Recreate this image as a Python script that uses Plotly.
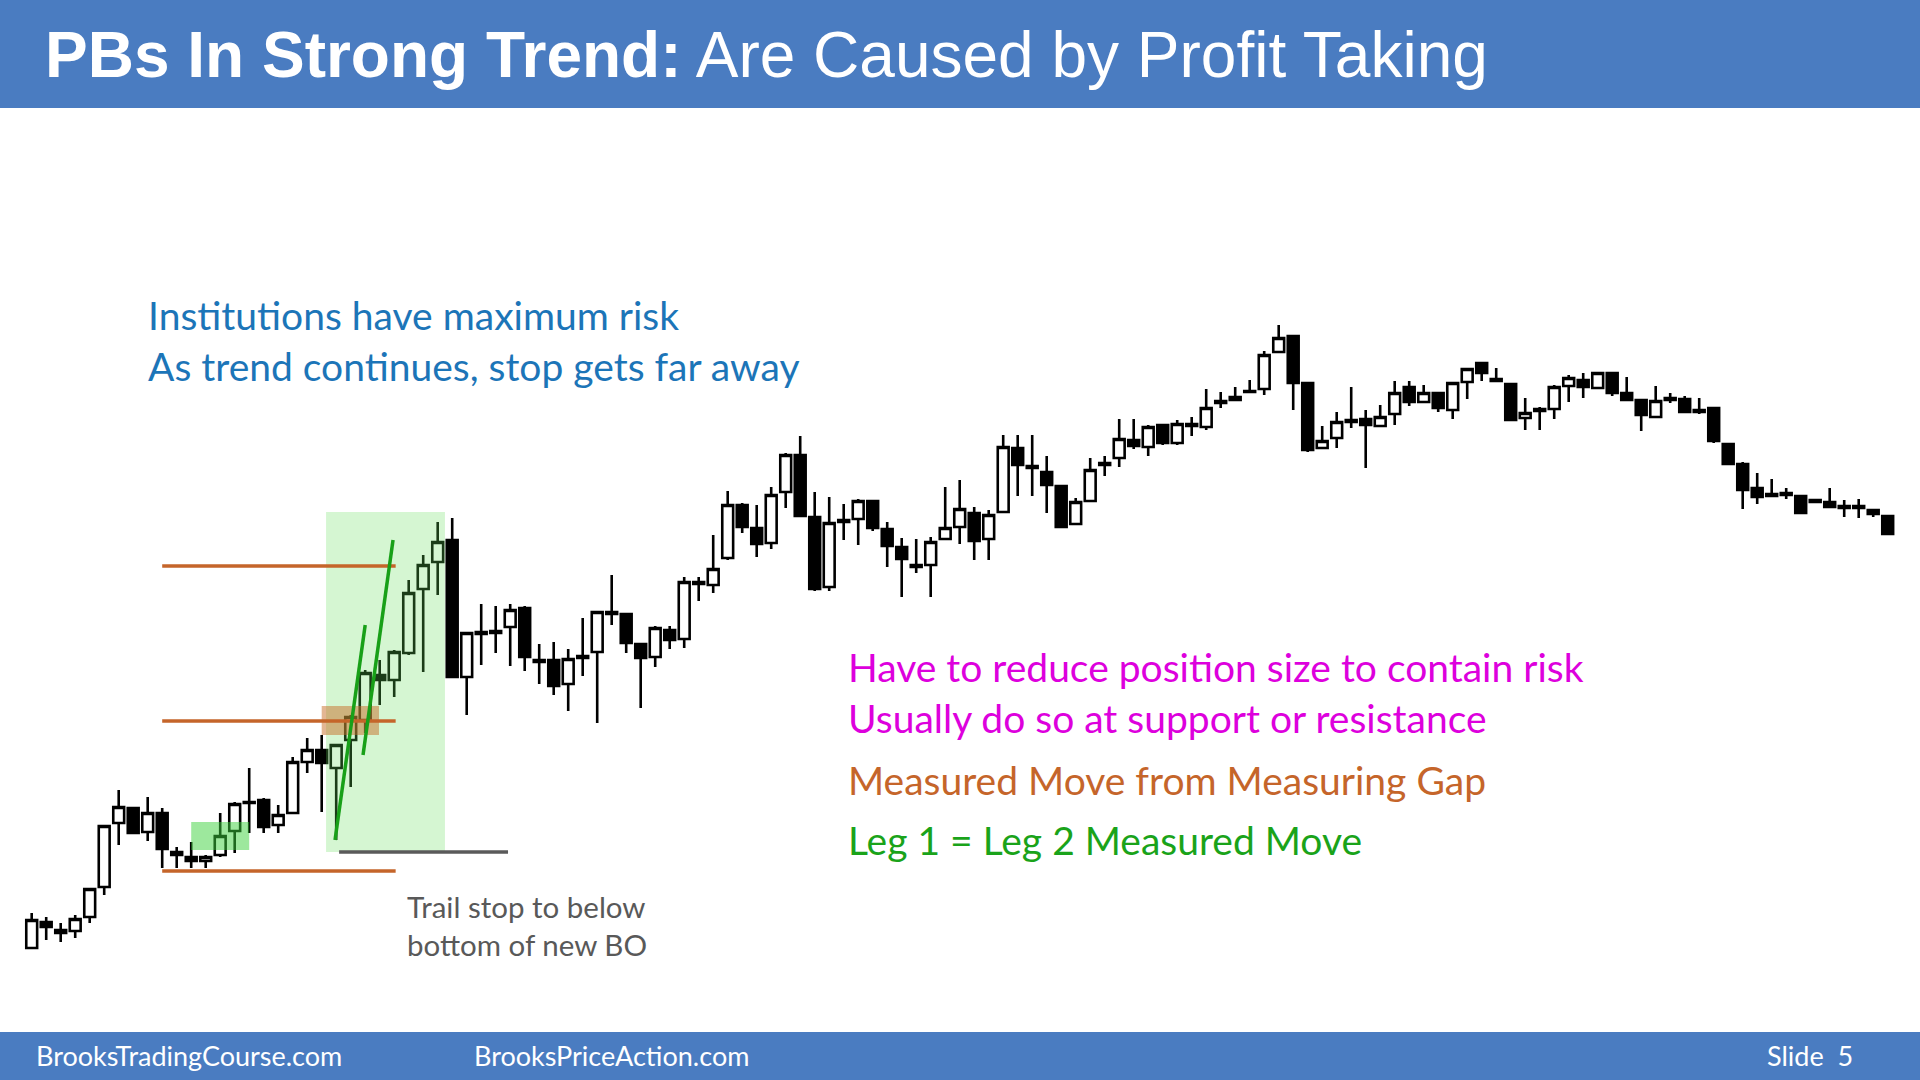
import plotly.graph_objects as go

# ---------------- data (price units) ----------------
opens = [52, 78, 70, 69, 83, 113, 177, 192, 168, 187, 148, 143, 139, 145, 169, 198, 200, 175, 187, 238,
         250, 232, 260, 280, 325, 320, 347, 411, 438, 460, 323, 368, 369, 373, 392, 340, 340, 316, 344, 348,
         388, 386, 356, 343, 370, 361, 418, 415, 442, 495, 472, 457, 508, 545, 483, 413, 480, 481, 499, 471,
         453, 435, 435, 461, 473, 487, 461, 488, 552, 534, 528, 514, 476, 499, 537, 542, 560, 553, 575, 557,
         576, 573, 599, 600, 609, 611, 648, 664, 617, 552, 562, 580, 581, 574, 586, 613, 598, 607, 590, 618,
         637, 621, 616, 582, 591, 591, 614, 620, 612, 627, 607, 600, 583, 602, 601, 590, 592, 556, 536, 512,
         506, 507, 504, 500, 498, 494, 494, 490, 484]
highs = [87, 83, 77, 85, 111, 174, 210, 193, 203, 192, 153, 158, 145, 187, 198, 232, 202, 195, 243, 262,
         265, 255, 285, 330, 340, 350, 420, 445, 478, 482, 367, 396, 394, 396, 394, 356, 358, 351, 382, 388,
         425, 387, 356, 374, 374, 423, 423, 465, 509, 497, 495, 513, 547, 564, 508, 503, 496, 501, 500, 478,
         462, 461, 463, 513, 520, 493, 490, 565, 565, 565, 544, 515, 502, 542, 544, 581, 581, 575, 575, 580,
         583, 611, 608, 613, 620, 649, 675, 664, 618, 574, 588, 613, 590, 595, 619, 619, 615, 607, 618, 632,
         637, 632, 616, 602, 593, 615, 625, 627, 628, 627, 623, 600, 614, 607, 604, 602, 592, 557, 538, 527,
         521, 512, 505, 500, 512, 500, 501, 490, 484]
lows = [52, 60, 58, 62, 77, 105, 155, 166, 159, 132, 132, 132, 132, 143, 147, 167, 167, 167, 187, 227,
        188, 160, 213, 267, 295, 303, 345, 328, 405, 323, 285, 335, 347, 334, 329, 316, 305, 289, 324, 277,
        375, 347, 292, 333, 351, 352, 399, 407, 440, 467, 443, 451, 492, 484, 409, 409, 460, 455, 469, 433,
        403, 427, 403, 460, 456, 440, 440, 487, 504, 504, 487, 473, 476, 499, 524, 533, 551, 544, 555, 555,
        564, 570, 592, 600, 608, 605, 647, 590, 548, 551, 552, 572, 532, 573, 575, 594, 597, 588, 581, 601,
        619, 619, 579, 570, 570, 581, 598, 602, 611, 604, 599, 569, 583, 597, 587, 586, 557, 535, 491, 496,
        503, 501, 486, 498, 493, 483, 482, 483, 466]
closes = [80, 73, 67, 81, 111, 174, 193, 167, 187, 151, 145, 139, 143, 164, 196, 197, 173, 185, 238, 250,
          237, 255, 283, 327, 320, 348, 407, 435, 458, 323, 367, 366, 367, 390, 343, 338, 314, 341, 342, 388,
          386, 357, 342, 372, 360, 418, 416, 431, 495, 473, 456, 505, 545, 484, 411, 477, 478, 499, 472, 454,
          441, 433, 458, 472, 491, 459, 485, 553, 535, 532, 515, 473, 498, 530, 535, 561, 554, 573, 557, 576,
          574, 592, 597, 603, 608, 645, 662, 617, 550, 559, 578, 578, 575, 583, 607, 598, 607, 592, 617, 631,
          627, 619, 580, 587, 589, 613, 622, 613, 627, 607, 600, 585, 599, 600, 588, 588, 559, 536, 510, 503,
          504, 505, 487, 498, 493, 492, 492, 486, 466]
bars = list(range(len(opens)))

# annotation levels (price units) and bar positions
mm_levels = [434, 279, 129]          # measured-move lines
mm_bars = [9.0, 25.1]
trail_level = 148
trail_bars = [21.2, 32.85]
bo_box = dict(bars=[20.3, 28.5], prices=[148, 488])
small_box = dict(bars=[11.0, 15.0], prices=[150, 178])
gap_box = dict(bars=[20.0, 23.95], prices=[265, 294])
leg1 = dict(bars=[20.92, 23.0], prices=[160, 375])
leg2 = dict(bars=[22.85, 24.92], prices=[245, 460])

W, H = 1920, 1080
BLUE_BAR = "#4A7CC1"

fig = go.Figure()
fig.add_trace(go.Candlestick(
    x=bars, open=opens, high=highs, low=lows, close=closes,
    increasing=dict(line=dict(color="black", width=2.6), fillcolor="white"),
    decreasing=dict(line=dict(color="black", width=2.6), fillcolor="black"),
    whiskerwidth=0, hoverinfo="skip", showlegend=False,
))

shapes = []
# header / footer bars
shapes.append(dict(type="rect", xref="paper", yref="paper", x0=0, x1=1, y0=1 - 108 / H, y1=1,
                   fillcolor=BLUE_BAR, line=dict(width=0), layer="above"))
shapes.append(dict(type="rect", xref="paper", yref="paper", x0=0, x1=1, y0=0, y1=1 - 1032 / H,
                   fillcolor=BLUE_BAR, line=dict(width=0), layer="above"))
# boxes
shapes.append(dict(type="rect", xref="x", yref="y", x0=bo_box["bars"][0], x1=bo_box["bars"][1],
                   y0=bo_box["prices"][0], y1=bo_box["prices"][1],
                   fillcolor="rgba(100,220,90,0.27)", line=dict(width=0), layer="above"))
shapes.append(dict(type="rect", xref="x", yref="y", x0=small_box["bars"][0], x1=small_box["bars"][1],
                   y0=small_box["prices"][0], y1=small_box["prices"][1],
                   fillcolor="rgba(60,210,60,0.5)", line=dict(width=0), layer="above"))
shapes.append(dict(type="rect", xref="x", yref="y", x0=gap_box["bars"][0], x1=gap_box["bars"][1],
                   y0=gap_box["prices"][0], y1=gap_box["prices"][1],
                   fillcolor="rgba(200,110,40,0.5)", line=dict(width=0), layer="above"))
# measured-move lines
for lv in mm_levels:
    shapes.append(dict(type="line", xref="x", yref="y", x0=mm_bars[0], x1=mm_bars[1], y0=lv, y1=lv,
                       line=dict(color="#C5652A", width=3.5), layer="above"))
shapes.append(dict(type="line", xref="x", yref="y", x0=trail_bars[0], x1=trail_bars[1],
                   y0=trail_level, y1=trail_level, line=dict(color="#5A5A5A", width=3.5), layer="above"))
for leg in (leg1, leg2):
    shapes.append(dict(type="line", xref="x", yref="y", x0=leg["bars"][0], x1=leg["bars"][1],
                       y0=leg["prices"][0], y1=leg["prices"][1],
                       line=dict(color="#18A018", width=3.5), layer="above"))

ann = []


def text(x, y, s, size, color, family="Lato"):
    ann.append(dict(xref="paper", yref="paper", x=x / W, y=1 - y / H, text=s, showarrow=False,
                    xanchor="left", yanchor="middle", align="left",
                    font=dict(size=size, color=color, family=family)))


text(43, 55, "<b>PBs In Strong Trend:</b> Are Caused by Profit Taking", 64, "white",
     family="Liberation Sans, Arial")
text(146, 315, "Institutions have maximum risk", 39, "#1C75B8")
text(146, 366, "As trend continues, stop gets far away", 39, "#1C75B8")
text(846, 667, "Have to reduce position size to contain risk", 39, "#DD00DD")
text(846, 718, "Usually do so at support or resistance", 39, "#DD00DD")
text(846, 780, "Measured Move from Measuring Gap", 39, "#C5652A")
text(846, 840, "Leg 1 = Leg 2 Measured Move", 39, "#1AA31A")
text(405, 906, "Trail stop to below", 29.5, "#595959")
text(405, 944, "bottom of new BO", 29.5, "#595959")
text(34, 1055, "BrooksTradingCourse.com", 27, "white")
text(472, 1055, "BrooksPriceAction.com", 27, "white")
text(1765, 1055, "Slide  5", 27, "white")

fig.update_layout(
    width=W, height=H, margin=dict(l=0, r=0, t=0, b=0),
    paper_bgcolor="white", plot_bgcolor="white",
    shapes=shapes, annotations=ann, showlegend=False,
    boxgap=0.25, boxgroupgap=0,
    xaxis=dict(range=[-31.7 / 14.5, (W - 31.7) / 14.5], visible=False, rangeslider=dict(visible=False),
               fixedrange=True),
    yaxis=dict(range=[1000 - H, 1000], visible=False, fixedrange=True),
)

fig.write_html("out.html", config=dict(displayModeBar=False),
               post_script="document.body.style.margin='0';document.body.style.overflow='hidden';")
